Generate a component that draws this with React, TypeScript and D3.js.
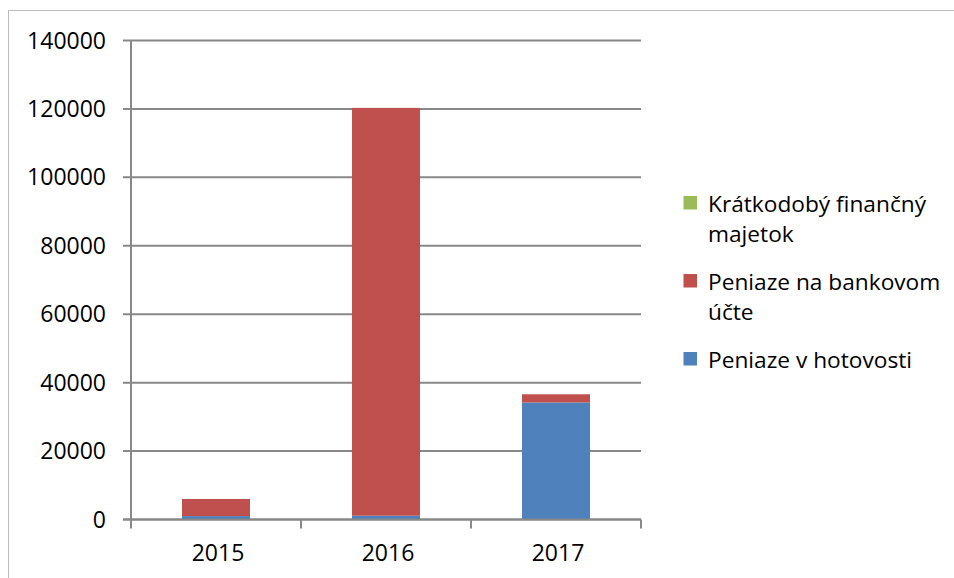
import React from 'react';
import * as d3 from 'd3';

const years = ['2015', '2016', '2017'];
const cash = [1000, 1100, 34200];
const bank = [5000, 119200, 2400];
const shortTerm = [0, 0, 0];
const yTicks = [0, 20000, 40000, 60000, 80000, 100000, 120000, 140000];

const seriesNames = ['Peniaze v hotovosti', 'Peniaze na bankovom účte', 'Krátkodobý finančný majetok'];
const colors = ['#4F81BD', '#C0504D', '#9BBB59'];

// legend lines, top to bottom
const legendItems = [
  { lines: ['Krátkodobý finančný', 'majetok'], color: colors[2] },
  { lines: ['Peniaze na bankovom', 'účte'], color: colors[1] },
  { lines: ['Peniaze v hotovosti'], color: colors[0] },
];

const App = () => {
  const width = 954;
  const height = 578;
  const plot = { left: 131, right: 641, top: 40.5, bottom: 519.5 };
  const font = '"Open Sans", sans-serif';
  const grid = '#888888';

  const x = d3.scaleBand<string>().domain(years).range([plot.left, plot.right]).paddingInner(0.6).paddingOuter(0.3);
  const xOuter = d3.scaleBand<string>().domain(years).range([plot.left, plot.right]);
  const y = d3.scaleLinear().domain([0, 140000]).range([plot.bottom, plot.top]);

  const rows = years.map((yr, i) => ({ yr, cash: cash[i], bank: bank[i], short: shortTerm[i] }));
  const stack = d3.stack<any>().keys(['cash', 'bank', 'short'])(rows);

  return (
    <svg width={width} height={height} style={{ position: 'absolute', left: 0, top: 0, background: '#fff' }}>
      <rect x={8.5} y={10.5} width={1000} height={700} fill="#fff" stroke="#bdbdbd" strokeWidth={1} />

      {/* gridlines + y ticks */}
      {yTicks.map((t) => (
        <g key={t}>
          <line x1={plot.left - 8} x2={plot.right} y1={y(t)} y2={y(t)} stroke={grid} strokeWidth={2} />
          <text x={106} y={y(t) + 8} textAnchor="end" fontFamily={font} fontSize={23} fill="#000">
            {t}
          </text>
        </g>
      ))}

      {/* bars */}
      {stack.map((s, si) =>
        s.map((d, i) => (
          <rect
            key={si + '-' + i}
            x={x(years[i])}
            y={y(d[1])}
            width={x.bandwidth()}
            height={Math.max(0, y(d[0]) - y(d[1]))}
            fill={colors[si]}
          >
            <title>{seriesNames[si]}</title>
          </rect>
        ))
      )}

      {/* axes */}
      <line x1={plot.left} x2={plot.left} y1={plot.top} y2={plot.bottom} stroke={grid} strokeWidth={2} />
      <line x1={plot.left - 8} x2={plot.right} y1={plot.bottom} y2={plot.bottom} stroke={grid} strokeWidth={2} />
      {years.map((yr) => (
        <line
          key={'t' + yr}
          x1={(xOuter(yr) as number) + xOuter.bandwidth()}
          x2={(xOuter(yr) as number) + xOuter.bandwidth()}
          y1={plot.bottom}
          y2={plot.bottom + 9}
          stroke={grid}
          strokeWidth={2}
        />
      ))}
      <line x1={plot.left} x2={plot.left} y1={plot.bottom} y2={plot.bottom + 9} stroke={grid} strokeWidth={2} />
      {years.map((yr) => (
        <text
          key={'l' + yr}
          x={(xOuter(yr) as number) + xOuter.bandwidth() / 2 + 2}
          y={561}
          textAnchor="middle"
          fontFamily={font}
          fontSize={23}
          fill="#000"
        >
          {yr}
        </text>
      ))}

      {/* legend */}
      {legendItems.map((item, i) => {
        const top = [212, 290, 368][i];
        return (
          <g key={'lg' + i}>
            <rect x={683.5} y={top - 16} width={13.5} height={13.5} fill={item.color} />
            {item.lines.map((ln, j) => (
              <text key={j} x={708} y={top + j * 30} fontFamily={font} fontSize={22.7} fill="#000">
                {ln}
              </text>
            ))}
          </g>
        );
      })}
    </svg>
  );
};

export default App;
